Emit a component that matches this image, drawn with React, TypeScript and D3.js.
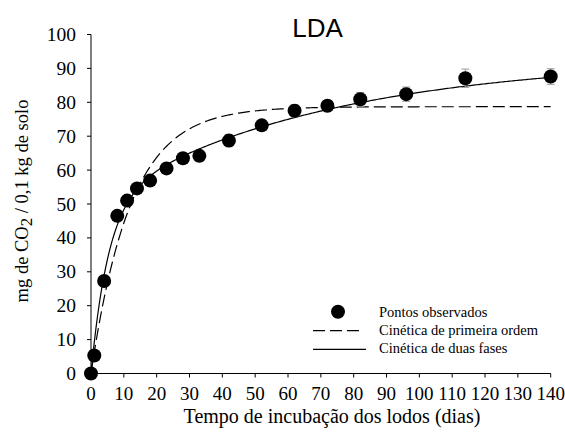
import React from "react";
import * as d3 from "d3";

// Observed cumulative CO2 release (mg CO2 / 0.1 kg soil)
const days = [0, 1, 4, 8, 11, 14, 18, 23, 28, 33, 42, 52, 62, 72, 82, 96, 114, 140];
const observed = [0, 5.3, 27.3, 46.5, 51, 54.6, 56.9, 60.5, 63.5, 64.2, 68.7, 73.2, 77.5, 79, 80.9, 82.4, 87.1, 87.6];
const errors = [0, 0.5, 1, 1.2, 1, 1, 1, 1.2, 1.5, 1.5, 1.8, 1.5, 1.8, 1.5, 2.0, 2.1, 2.7, 2.3];

// Fitted kinetic models
const firstOrder = { c0: 78.7, k: 0.083 };
const twoPhase = { c1: 50, k1: 0.19, c2: 43, k2: 0.0145 };

const xTicks = d3.range(0, 141, 10);
const yTicks = d3.range(0, 101, 10);

const title = "LDA";
const xTitle = "Tempo de incubação dos lodos (dias)";
const legendLabels = ["Pontos observados", "Cinética de primeira ordem", "Cinética de duas fases"];

const W = 565;
const H = 441;
const serif: React.CSSProperties = { fontFamily: '"Liberation Serif", "Times New Roman", Times, serif' };
const sans: React.CSSProperties = { fontFamily: '"Liberation Sans", Arial, sans-serif' };

export default function App() {
  const x = d3.scaleLinear().domain([0, 140]).range([91, 550.7]);
  const y = d3.scaleLinear().domain([0, 100]).range([373.5, 34.5]);

  const tGrid = d3.range(0, 140.01, 0.5);
  const line = d3
    .line<[number, number]>()
    .x((d) => x(d[0]))
    .y((d) => y(d[1]));

  const foPath = line(
    tGrid.map((t) => [t, firstOrder.c0 * (1 - Math.exp(-firstOrder.k * t))] as [number, number])
  );
  const tpPath = line(
    tGrid.map(
      (t) =>
        [
          t,
          twoPhase.c1 * (1 - Math.exp(-twoPhase.k1 * t)) +
            twoPhase.c2 * (1 - Math.exp(-twoPhase.k2 * t)),
        ] as [number, number]
    )
  );

  const y0 = y(0);
  const x0 = x(0);

  return (
    <svg
      width={W}
      height={H}
      style={{ position: "absolute", left: 0, top: 0, background: "#fff" }}
    >
      <rect x={0} y={0} width={W} height={H} fill="#fff" />

      {/* title */}
      <text x={317.5} y={37} style={sans} fontSize={26} textAnchor="middle" fill="#000">
        {title}
      </text>

      {/* axes */}
      <line x1={x0} x2={x0} y1={y(100)} y2={y0} stroke="#000" strokeWidth={1} />
      <line x1={x0} x2={x(140)} y1={y0} y2={y0} stroke="#000" strokeWidth={1} />

      {yTicks.map((v) => (
        <g key={"y" + v}>
          <line x1={x0 - 4} x2={x0} y1={y(v)} y2={y(v)} stroke="#000" strokeWidth={1} />
          <text
            x={76}
            y={y(v) + 6.5}
            style={serif}
            fontSize={19.5}
            textAnchor="end"
            fill="#000"
          >
            {v}
          </text>
        </g>
      ))}

      {xTicks.map((v) => (
        <g key={"x" + v}>
          <line x1={x(v)} x2={x(v)} y1={y0} y2={y0 + 4} stroke="#000" strokeWidth={1} />
          <text x={x(v)} y={400} style={serif} fontSize={19} textAnchor="middle" fill="#000">
            {v}
          </text>
        </g>
      ))}

      {/* axis titles */}
      <text x={332} y={423} style={serif} fontSize={20} textAnchor="middle" fill="#000">
        {xTitle}
      </text>
      <text
        transform="translate(28,201) rotate(-90)"
        style={serif}
        fontSize={18.5}
        textAnchor="middle"
        fill="#000"
      >
        <tspan>mg de CO</tspan>
        <tspan dy={4} fontSize={17}>2</tspan>
        <tspan dy={-4}> / 0,1 kg de solo</tspan>
      </text>

      {/* model curves */}
      <path d={foPath ?? ""} fill="none" stroke="#000" strokeWidth={1.2} strokeDasharray="12,5" />
      <path d={tpPath ?? ""} fill="none" stroke="#000" strokeWidth={1.2} />

      {/* error bars */}
      {days.map((d, i) => (
        <g key={"e" + i} stroke="#9a9a9a" strokeWidth={1}>
          <line x1={x(d)} x2={x(d)} y1={y(observed[i] - errors[i])} y2={y(observed[i] + errors[i])} />
          <line x1={x(d) - 4} x2={x(d) + 4} y1={y(observed[i] - errors[i])} y2={y(observed[i] - errors[i])} />
          <line x1={x(d) - 4} x2={x(d) + 4} y1={y(observed[i] + errors[i])} y2={y(observed[i] + errors[i])} />
        </g>
      ))}

      {/* observed points */}
      {days.map((d, i) => (
        <circle key={"p" + i} cx={x(d)} cy={y(observed[i])} r={7} fill="#000" />
      ))}

      {/* legend */}
      <circle cx={338} cy={311.7} r={7} fill="#000" />
      <line x1={313} x2={362} y1={330.7} y2={330.7} stroke="#000" strokeWidth={1.2} strokeDasharray="12,5" />
      <line x1={313} x2={366} y1={349.3} y2={349.3} stroke="#000" strokeWidth={1.2} />
      {legendLabels.map((s, i) => (
        <text key={s} x={379} y={316.5 + i * 18.3} style={serif} fontSize={14.5} fill="#000">
          {s}
        </text>
      ))}
    </svg>
  );
}
